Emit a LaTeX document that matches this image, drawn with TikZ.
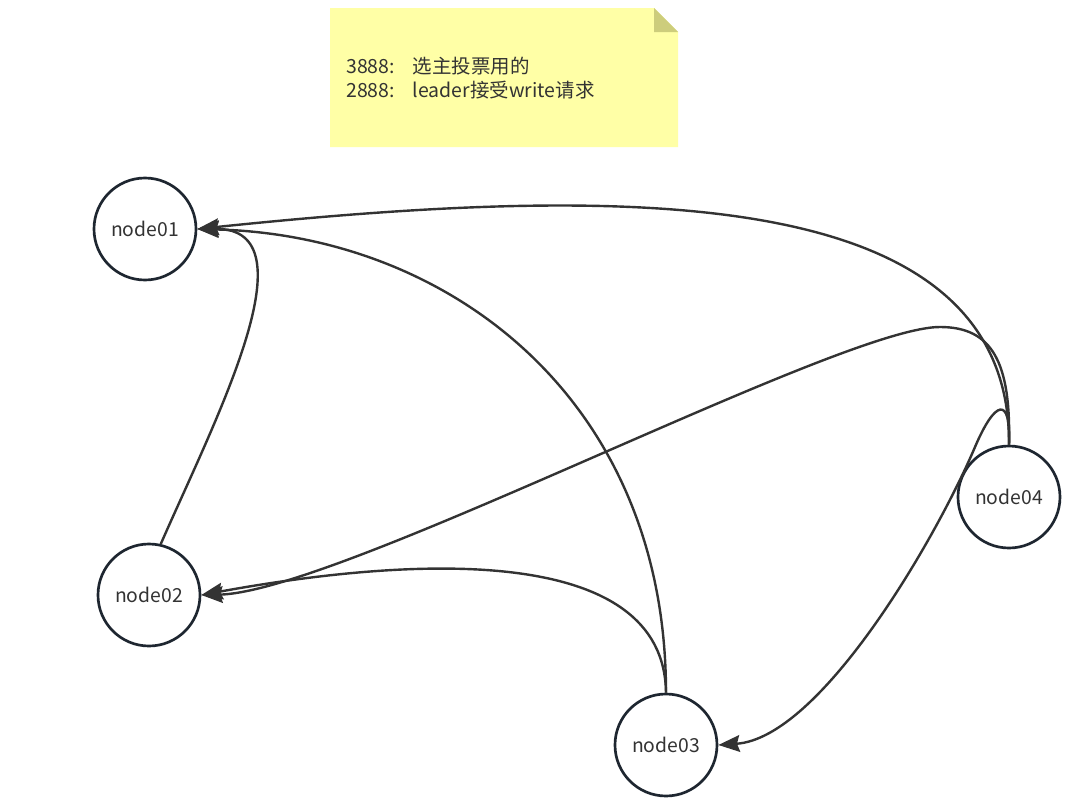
\documentclass[tikz,border=0pt]{standalone}
\usepackage{fontspec}
\setmainfont{Noto Sans CJK SC}
\usetikzlibrary{arrows.meta}
\definecolor{edgecol}{HTML}{333333}
\definecolor{ringcol}{HTML}{1E2630}
\definecolor{notefill}{HTML}{FFFFA6}
\definecolor{notefold}{HTML}{CDCD7C}
\definecolor{txtcol}{HTML}{333333}
\begin{document}
\begin{tikzpicture}[x=0.75pt,y=-0.75pt,
  peer/.style={circle, draw=ringcol, line width=2pt, fill=white,
    minimum size=76.5pt, inner sep=0pt,
    font=\fontsize{14.5pt}{17pt}\selectfont, text=txtcol},
  link/.style={draw=edgecol, line width=1.8pt,
    -{Stealth[length=16pt, width=12.5pt, inset=2pt]}},
  notetext/.style={anchor=base west, inner sep=0pt,
    font=\fontsize{14.6pt}{17pt}\selectfont, text=txtcol}]
  % canvas
  \useasboundingbox (0,0) rectangle (1090,810);
  \fill[white] (0,0) rectangle (1090,810);

  % sticky note with folded corner
  \fill[notefill] (330,8) -- (654,8) -- (678,32) -- (678,147) -- (330,147) -- cycle;
  \fill[notefold] (654,8) -- (654,32) -- (678,32) -- cycle;
  \node[notetext] (line1) at (346,73) {\makebox[50pt][l]{3888:}选主投票用的};
  \node[notetext] (line2) at (346,97) {\makebox[50pt][l]{2888:}leader接受write请求};

  % cluster members
  \node[peer] (n1) at (145,229) {node01};
  \node[peer] (n2) at (149,595) {node02};
  \node[peer] (n3) at (666,745) {node03};
  \node[peer] (n4) at (1009,497) {node04};

  % votes / requests between members
  \draw[link] (n4.north) .. controls (1011,180) and (620,185) .. (n1.east);
  \draw[link] (n4.north) .. controls (1011,362) and (992,327) .. (940,327)
                         .. controls (840,327) and (340,592) .. (n2.east);
  \draw[link] (n4.north) .. controls (1011,395) and (995,400) .. (975,447)
                         .. controls (935,541) and (820,738) .. (n3.east);
  \draw[link] (n3.north) .. controls (666,400) and (450,235) .. (n1.east);
  \draw[link] (n3.north) .. controls (664,545) and (420,555) .. (n2.east);
  \draw[link] (n2.77) .. controls (215,420) and (315,228) .. (n1.east);
\end{tikzpicture}
\end{document}
